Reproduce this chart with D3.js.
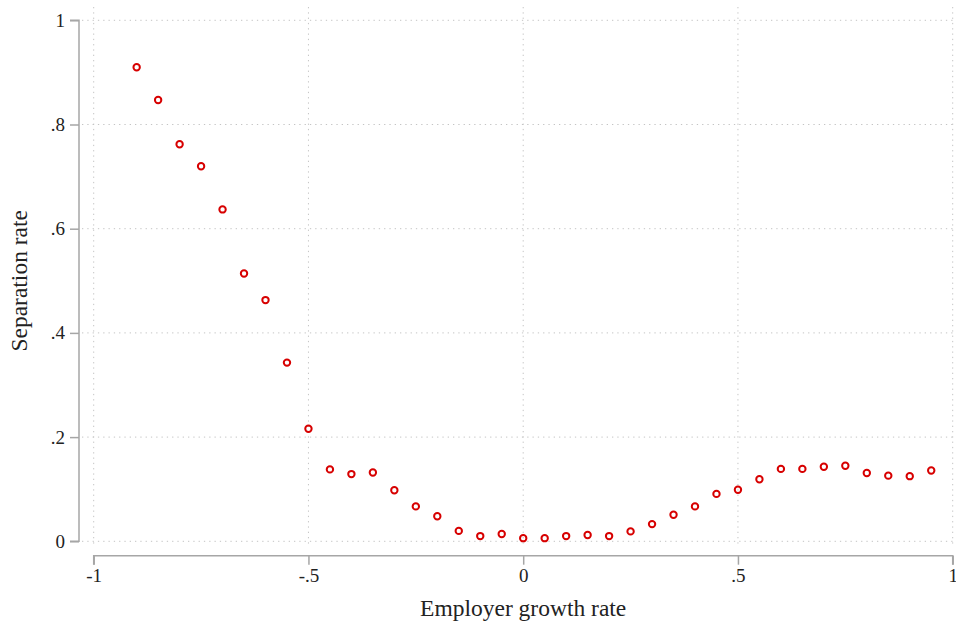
<!DOCTYPE html>
<html>
<head>
<meta charset="utf-8">
<script src="https://cdn.jsdelivr.net/npm/d3@7"></script>
<style>
  body { margin: 0; background: #fff; }
  text { font-family: "Liberation Serif", "Times New Roman", serif; fill: #222; }
  .grid line { stroke: #c4c4c4; stroke-width: 1; stroke-dasharray: 1.3,4; }
  .axis path, .axis line { stroke: #a6a6a6; stroke-width: 1.5; }
</style>
</head>
<body>
<div id="plot"></div>
<script>
const CANVAS_WIDTH  = 956;
const CANVAS_HEIGHT = 625;

// data
const growthRate = [-0.9, -0.85, -0.8, -0.75, -0.7, -0.65, -0.6, -0.55, -0.5, -0.45,
                    -0.4, -0.35, -0.3, -0.25, -0.2, -0.15, -0.1, -0.05, 0, 0.05,
                    0.1, 0.15, 0.2, 0.25, 0.3, 0.35, 0.4, 0.45, 0.5, 0.55,
                    0.6, 0.65, 0.7, 0.75, 0.8, 0.85, 0.9, 0.95];
const separationRate = [0.910, 0.847, 0.762, 0.720, 0.637, 0.514, 0.463, 0.343, 0.216, 0.138,
                        0.129, 0.132, 0.098, 0.067, 0.048, 0.020, 0.010, 0.014, 0.006, 0.006,
                        0.010, 0.012, 0.010, 0.019, 0.033, 0.051, 0.067, 0.091, 0.099, 0.119,
                        0.139, 0.139, 0.143, 0.145, 0.131, 0.126, 0.125, 0.136];

const xTicks = [-1, -0.5, 0, 0.5, 1];
const yTicks = [0, 0.2, 0.4, 0.6, 0.8, 1];
const xTitle = "Employer growth rate";
const yTitle = "Separation rate";

const fmt = d => d === 0 ? "0" : (d === 1 || d === -1) ? String(d) : String(d).replace("0.", ".");

var svg = d3.select("#plot")
            .append("svg")
            .attr("width", CANVAS_WIDTH)
            .attr("height", CANVAS_HEIGHT);

var xScale = d3.scaleLinear().domain([-1, 1]).range([93.7, 952.7]);
var yScale = d3.scaleLinear().domain([0, 1]).range([541.3, 20.3]);

// plot region slightly wider than the data range
var plotLeft = 82, plotRight = 953, plotTop = 7, plotBottom = 545;

// gridlines
var grid = svg.append("g").attr("class", "grid");
grid.selectAll(".hg")
    .data(yTicks)
    .enter().append("line")
    .attr("x1", plotLeft).attr("x2", plotRight)
    .attr("y1", d => yScale(d)).attr("y2", d => yScale(d));
grid.selectAll(".vg")
    .data(xTicks)
    .enter().append("line")
    .attr("x1", d => xScale(d)).attr("x2", d => xScale(d))
    .attr("y1", plotTop).attr("y2", plotBottom);

// axes
var yAxis = d3.axisLeft(yScale).tickValues(yTicks).tickFormat(fmt).tickSize(9).tickPadding(5);
var xAxis = d3.axisBottom(xScale).tickValues(xTicks).tickFormat(fmt).tickSize(9).tickPadding(4);

var gy = svg.append("g")
   .attr("class", "axis")
   .attr("transform", "translate(79,0)")
   .call(yAxis);
gy.select(".domain").attr("d", `M-9,${yScale(1)}H0V${yScale(0)}H-9`);
gy.selectAll("text").style("font-size", "19px").attr("fill", "#222");

var gx = svg.append("g")
   .attr("class", "axis")
   .attr("transform", "translate(0,555.7)")
   .call(xAxis);
gx.select(".domain").attr("d", `M${xScale(-1)},9V0H${xScale(1)}V9`);
gx.selectAll("text").style("font-size", "19px").attr("fill", "#222");

// titles
svg.append("text")
   .attr("x", xScale(0))
   .attr("y", 616)
   .attr("text-anchor", "middle")
   .style("font-size", "23.5px")
   .text(xTitle);

svg.append("text")
   .attr("transform", "translate(27," + yScale(0.5) + ") rotate(-90)")
   .attr("text-anchor", "middle")
   .style("font-size", "23.5px")
   .text(yTitle);

// points
svg.selectAll("circle")
   .data(growthRate)
   .enter()
   .append("circle")
   .attr("cx", d => xScale(d))
   .attr("cy", (d, i) => yScale(separationRate[i]))
   .attr("r", 3.2)
   .attr("fill", "none")
   .attr("stroke", "#d70000")
   .attr("stroke-width", 2);
</script>
</body>
</html>
